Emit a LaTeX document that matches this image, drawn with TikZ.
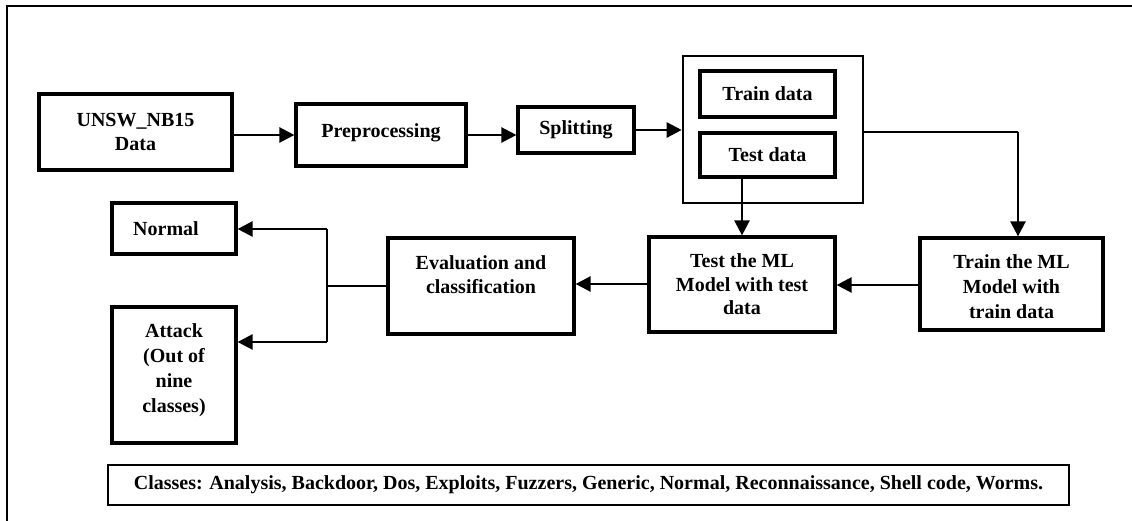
\documentclass[tikz,border=0pt]{standalone}
\usepackage{fontspec}
\setmainfont{Liberation Serif}
\usetikzlibrary{arrows.meta}
\begin{document}
\begin{tikzpicture}[x=1pt,y=-1pt,
  box/.style={draw, line width=3.2pt, align=center, inner sep=0pt, font=\bfseries\fontsize{20}{23.5}\selectfont},
  arr/.style={line width=2.4pt, -{Triangle[length=15pt,width=15pt]}},
  ln/.style={line width=1.8pt}]
\useasboundingbox (0,0) rectangle (1132,521);
% outer frame (cropped)
\draw[line width=2.2pt] (7,521) -- (7,6) -- (1132,6);
% nodes
\node[box, minimum width=193pt, minimum height=76pt] (unsw) at (135.5,132) {UNSW\_NB15\\Data};
\node[box, minimum width=170pt, minimum height=62pt, text depth=8pt] (prep) at (381,135) {Preprocessing};
\node[box, minimum width=116pt, minimum height=46pt] (split) at (576,130) {Splitting};
\node[draw, line width=2.6pt, minimum width=180pt, minimum height=147pt] (cont) at (773,129.5) {};
\node[box, minimum width=135pt, minimum height=46pt] (train) at (767.5,94) {Train data};
\node[box, minimum width=135pt, minimum height=44pt] (test) at (767.5,155) {Test data};
\node[box, minimum width=186pt, minimum height=95pt] (testml) at (742,284.5) {Test the ML\\Model with test\\data};
\node[box, minimum width=183pt, minimum height=92pt,
  label={[box, draw=none, anchor=north, yshift=-17pt, font=\bfseries\fontsize{20}{25}\selectfont]north:Train the ML\\Model with\\train data}] (trainml) at (1011.5,284) {};
\node[box, minimum width=186pt, minimum height=96pt,
  label={[box, draw=none, anchor=north, yshift=-18pt]north:Evaluation and\\classification}] (eval) at (481,286) {};
\node[box, minimum width=124pt, minimum height=51pt] (normal) at (174,228.5) {Normal\hspace{16pt}};
\node[box, minimum width=124pt, minimum height=136pt,
  label={[box, draw=none, anchor=north, yshift=-17pt, font=\bfseries\fontsize{20}{25}\selectfont]north:Attack\\(Out of\\nine\\classes)}] (attack) at (174,375) {};
\node[draw, line width=1.2pt, minimum width=961pt, minimum height=40pt, inner sep=0pt,
  font=\bfseries\fontsize{20}{23}\selectfont] (classes) at (588.5,485)
  {Classes: Analysis, Backdoor, Dos, Exploits, Fuzzers, Generic, Normal, Reconnaissance, Shell code, Worms.};
% connectors
\draw[arr] (unsw.east |- prep.west) -- (prep.west);
\draw[arr] (prep.east) -- (prep.east -| split.west);
\draw[arr] (split.east) -- (split.east -| cont.west);
\draw[arr] (testml.north |- test.south) -- (testml.north);
\coordinate (c1) at (1018,132);
\draw[ln] (cont.east |- c1) -- (c1);
\draw[arr] (c1) -- (c1 |- trainml.north);
\draw[arr] (trainml.west |- 0,285) -- (testml.east |- 0,285);
\draw[arr] (testml.west |- 0,284) -- (eval.east |- 0,284);
\coordinate (b0) at (327,286);
\coordinate (bn) at (327,229);
\coordinate (ba) at (327,342);
\draw[ln] (eval.west |- b0) -- (b0);
\draw[ln] (bn) -- (ba);
\draw[arr] (bn) -- (normal.east |- bn);
\draw[arr] (ba) -- (attack.east |- ba);
\end{tikzpicture}
\end{document}
